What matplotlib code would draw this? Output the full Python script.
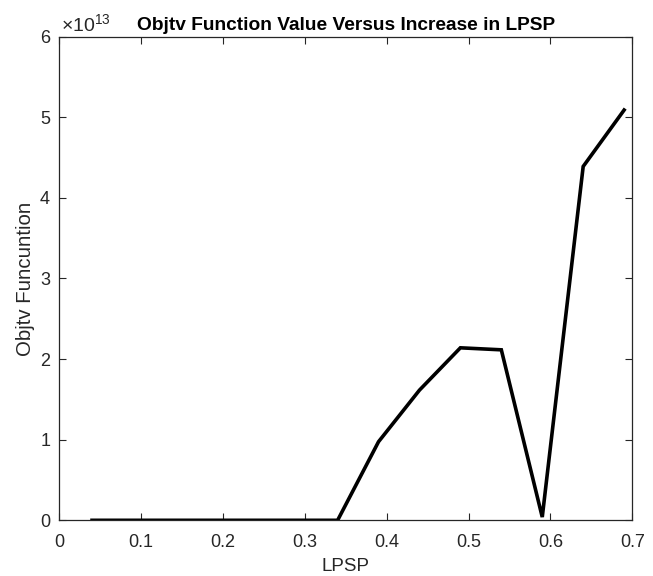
import matplotlib.pyplot as plt
from matplotlib.ticker import ScalarFormatter

# LPSP levels and the objective function value at each one
lpsp = [0.04, 0.09, 0.14, 0.19, 0.24, 0.29, 0.34, 0.39, 0.44, 0.49, 0.54, 0.59, 0.64, 0.69]
objtv = [0, 0, 0, 0, 0, 0, 0, 0.975e13, 1.615e13, 2.14e13, 2.115e13, 0.04e13, 4.39e13, 5.09e13]

x_ticks = [0, 0.1, 0.2, 0.3, 0.4, 0.5, 0.6, 0.7]
y_ticks = [0, 1e13, 2e13, 3e13, 4e13, 5e13, 6e13]

plt.rcParams['font.family'] = ['Liberation Sans', 'DejaVu Sans']
plt.rcParams['mathtext.fontset'] = 'custom'
plt.rcParams['mathtext.rm'] = 'Liberation Sans'
plt.rcParams['mathtext.it'] = 'Liberation Sans:italic'

ink = '#262626'

fig = plt.figure(figsize=(6.53, 5.76), dpi=100)
ax = fig.add_axes([0.0908, 0.0967, 0.8775, 0.8396])

ax.plot(lpsp, objtv, color='black', linewidth=2.6, solid_joinstyle='miter')

ax.set_xlim(0, 0.7)
ax.set_ylim(0, 6e13)
ax.set_xticks(x_ticks)
ax.set_yticks(y_ticks)

fmt = ScalarFormatter(useMathText=True)
fmt.set_powerlimits((0, 0))
ax.yaxis.set_major_formatter(fmt)
ax.xaxis.set_major_formatter(lambda v, p: '0' if v == 0 else f'{v:.1f}')

ax.tick_params(direction='in', length=5, width=0.8, colors=ink,
               labelsize=13, top=True, right=True)
ax.tick_params(axis='x', pad=10)
ax.tick_params(axis='y', pad=6)
for s in ax.spines.values():
    s.set_color(ink)
    s.set_linewidth(0.9)

# exponent label above the top-left corner, drawn with the text font's ×
ax.yaxis.get_offset_text().set_visible(False)
ax.text(0.003, 1.003, '×10$^{13}$', transform=ax.transAxes,
        ha='left', va='bottom', fontsize=14, color=ink)

ax.set_xlabel('LPSP', fontsize=13.5, color=ink, labelpad=5)
ax.set_ylabel('Objtv Funcuntion', fontsize=14.7, color=ink, labelpad=3)
ax.set_title('Objtv Function Value Versus Increase in LPSP',
             fontsize=13.8, fontweight='bold', color='black', pad=5)

fig.savefig('out.png', dpi=100)
